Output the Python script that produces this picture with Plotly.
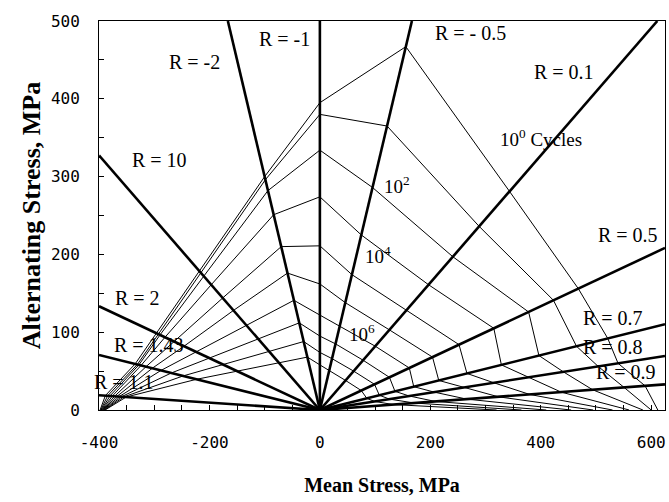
import plotly.graph_objects as go

# Stress ratios of the radial lines (order along the constant-life curves, left to right)
R_values = [1.1, 1.43, 2, 10, -2, -1, -0.5, 0.1, 0.5, 0.7, 0.8, 0.9]

# Constant-life curves: alternating stress (MPa) where each curve meets each R line
cycles = ["10^0", "10^1", "10^2", "10^3", "10^4", "10^5", "10^6", "10^7", "10^8", "10^9"]
c0 = [18.5, 59.2, 98.7, 178.6, 300, 395, 467, 281, 156, 92, 60, 31]
c1 = [18.3, 58.5, 97.5, 176, 296, 380, 365, 236, 141, 82, 56, 29]
c2 = [18.1, 58.0, 96.5, 172, 282, 334, 286, 197, 126, 70, 49, 26]
c3 = [17.9, 57.3, 93.5, 161, 251, 274, 225, 161, 105, 58, 42, 23]
c4 = [17.7, 55.7, 88, 144, 210, 211, 174, 128, 84, 47, 35, 20]
c5 = [17.5, 53.7, 82, 128, 176, 162, 138, 103, 68, 38, 29, 17]
c6 = [17.3, 50.9, 74.6, 109, 141, 122, 108, 82, 54, 30, 23, 14]
c7 = [17.1, 47.6, 66.7, 91, 112, 95, 85, 64, 42, 24, 18, 11]
c8 = [16.9, 43.8, 58.4, 75, 88, 74, 66, 50, 33, 19, 14, 9]
c9 = [16.7, 39.5, 50, 61, 68, 58, 51, 38, 25, 15, 11, 7]
curves_sa = [c0, c1, c2, c3, c4, c5, c6, c7, c8, c9]
# mean stress where each curve meets the zero-amplitude axis
left_end_sm = [-398, -397, -396, -395, -394, -393, -392, -391, -390, -389]
right_end_sm = [612, 600, 585, 560, 530, 495, 455, 410, 365, 320]

# R line labels and curve labels (text, mean stress, alternating stress)
r_labels = ["R = -1", "R = -2", "R = - 0.5", "R = 0.1", "R = 10", "R = 0.5",
            "R = 2", "R = 1.43", "R = 0.7", "R = 0.8", "R = 0.9", "R = 1.1"]
r_label_x = [-64, -227, 273, 442, -291, 558, -331, -309, 531, 531, 555, -355]
r_label_y = [477, 447, 485, 434, 321, 225, 144, 84, 118, 81, 49, 36]
cyc_labels = ["10<sup>0</sup> Cycles", "10<sup>2</sup>", "10<sup>4</sup>", "10<sup>6</sup>"]
cyc_label_x = [400, 140, 105, 76]
cyc_label_y = [350, 289, 199, 99]

XMIN, XMAX, YMAX = -400, 625, 500

fig = go.Figure()

def ratio_to_mean(sa, R):
    return sa * (1 + R) / (1 - R)

for sa_list, l_end, r_end in zip(curves_sa, left_end_sm, right_end_sm):
    xs = [l_end] + [ratio_to_mean(a, R) for a, R in zip(sa_list, R_values)] + [r_end]
    ys = [0] + list(sa_list) + [0]
    fig.add_trace(go.Scatter(x=xs, y=ys, mode="lines",
                             line=dict(color="black", width=1), hoverinfo="skip"))

for R in R_values:
    if R == -1:
        xe, ye = 0, YMAX
    else:
        k = (1 - R) / (1 + R)
        xe = XMAX if k > 0 else XMIN
        ye = k * xe
        if ye > YMAX:
            ye = YMAX
            xe = YMAX / k
    fig.add_trace(go.Scatter(x=[0, xe], y=[0, ye], mode="lines",
                             line=dict(color="black", width=2.6), hoverinfo="skip"))

annos = []
for t, x, y in zip(r_labels, r_label_x, r_label_y):
    annos.append(dict(x=x, y=y, text=t, showarrow=False,
                      font=dict(family="Liberation Serif", size=20, color="black")))
for t, x, y in zip(cyc_labels, cyc_label_x, cyc_label_y):
    annos.append(dict(x=x, y=y, text=t, showarrow=False,
                      font=dict(family="Liberation Serif", size=19, color="black")))

xt = list(range(-400, 601, 50))
yt = list(range(0, 501, 50))
fig.update_layout(
    width=669, height=502,
    margin=dict(l=99, r=4, t=21, b=92),
    plot_bgcolor="white", paper_bgcolor="white",
    showlegend=False,
    annotations=annos,
    xaxis=dict(range=[XMIN, XMAX], tickvals=xt,
               ticktext=[str(v) if v % 200 == 0 else "" for v in xt],
               ticks="inside", ticklen=5, tickcolor="black",
               ticklabelstandoff=18,
               showline=True, linecolor="black", linewidth=1, mirror=True,
               showgrid=False, zeroline=False,
               tickfont=dict(family="DejaVu Sans Mono", size=16, color="black"),
               title=dict(text="<b>Mean Stress, MPa</b>", standoff=26,
                          font=dict(family="Liberation Serif", size=20, color="black"))),
    yaxis=dict(range=[0, YMAX], tickvals=yt,
               ticktext=[str(v) if v % 100 == 0 else "" for v in yt],
               ticks="inside", ticklen=5, tickcolor="black",
               ticklabelstandoff=15,
               showline=True, linecolor="black", linewidth=1, mirror=True,
               showgrid=False, zeroline=False,
               tickfont=dict(family="DejaVu Sans Mono", size=16, color="black"),
               title=dict(text="<b>Alternating Stress, MPa</b>", standoff=2,
                          font=dict(family="Liberation Serif", size=26, color="black"))),
)

fig.write_html("out.html")
